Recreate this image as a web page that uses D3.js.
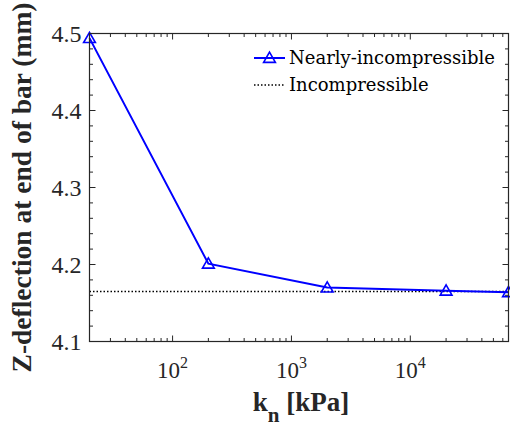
<!DOCTYPE html>
<html>
<head>
<meta charset="utf-8">
<script src="https://cdn.jsdelivr.net/npm/d3@7"></script>
<style>
  html, body { margin: 0; padding: 0; background: #fff; }
  svg { display: block; }
</style>
</head>
<body>
<script>
// Tip deflection vs. normal stiffness
const stiffness = [20, 200, 2000, 20000, 67000];          // k_n [kPa]
const nearlyIncompressible = [4.494, 4.201, 4.170, 4.166, 4.164]; // mm
const incompressible = 4.165;                              // mm
const xDomain = [20, 67000];
const yDomain = [4.1, 4.5];
const yTickValues = [4.1, 4.2, 4.3, 4.4, 4.5];
const xTickDecades = [100, 1000, 10000];
const seriesNames = ["Nearly-incompressible", "Incompressible"];

const W = 510, H = 426;
const m = { left: 89.5, right: 1.5, top: 33.5, bottom: 84.5 };
const iw = W - m.left - m.right, ih = H - m.top - m.bottom;
const axisColor = "#262626";

const svg = d3.select("body").append("svg").attr("width", W).attr("height", H);
const g = svg.append("g").attr("transform", `translate(${m.left},${m.top})`);

const x = d3.scaleLog().domain(xDomain).range([0, iw]);
const y = d3.scaleLinear().domain(yDomain).range([ih, 0]);

// minor ticks: 2..9 in every decade inside the domain
const xMinor = [];
for (let e = 1; e <= 4; e++) for (let k = 2; k <= 9; k++) {
  const v = k * Math.pow(10, e);
  if (v >= xDomain[0] && v <= xDomain[1]) xMinor.push(v);
}
const yMinor = d3.range(4.1, 4.5001, 0.02).map(v => +v.toFixed(2))
  .filter(v => !yTickValues.some(t => Math.abs(t - v) < 1e-9));

const majorLen = 6, minorLen = 3.5;

function tickLines(sel, vals, scale, orient, len) {
  sel.selectAll(null).data(vals).enter().append("line")
    .attr("stroke", axisColor).attr("stroke-width", 1)
    .each(function (d) {
      const s = d3.select(this), p = scale(d);
      if (orient === "bottom") s.attr("x1", p).attr("x2", p).attr("y1", ih).attr("y2", ih - len);
      if (orient === "top") s.attr("x1", p).attr("x2", p).attr("y1", 0).attr("y2", len);
      if (orient === "left") s.attr("y1", p).attr("y2", p).attr("x1", 0).attr("x2", len);
      if (orient === "right") s.attr("y1", p).attr("y2", p).attr("x1", iw).attr("x2", iw - len);
    });
}

// incompressible reference
g.append("line")
  .attr("x1", 0).attr("x2", iw)
  .attr("y1", y(incompressible)).attr("y2", y(incompressible))
  .attr("stroke", "#000").attr("stroke-width", 1.5)
  .attr("stroke-dasharray", "1.5,2");

// nearly-incompressible series
const pts = stiffness.map((s, i) => [s, nearlyIncompressible[i]]);
g.append("path").datum(pts)
  .attr("fill", "none").attr("stroke", "#0000ff").attr("stroke-width", 2)
  .attr("d", d3.line().x(d => x(d[0])).y(d => y(d[1])));

const tri = d3.symbol().type(d3.symbolTriangle).size(60);
g.selectAll(".mk").data(pts).enter().append("path")
  .attr("d", tri)
  .attr("transform", d => `translate(${x(d[0])},${y(d[1]) + 1})`)
  .attr("fill", "none").attr("stroke", "#0000ff").attr("stroke-width", 1.6);

// axes box
const axes = g.append("g");
axes.append("rect").attr("x", 0).attr("y", 0).attr("width", iw).attr("height", ih)
  .attr("fill", "none").attr("stroke", axisColor).attr("stroke-width", 1.2);
tickLines(axes, xTickDecades, x, "bottom", majorLen);
tickLines(axes, xTickDecades, x, "top", majorLen);
tickLines(axes, xMinor, x, "bottom", minorLen);
tickLines(axes, xMinor, x, "top", minorLen);
tickLines(axes, yTickValues, y, "left", majorLen);
tickLines(axes, yTickValues, y, "right", majorLen);
tickLines(axes, yMinor, y, "left", minorLen);
tickLines(axes, yMinor, y, "right", minorLen);

// tick labels
const font = "'Liberation Serif', 'Times New Roman', serif";
g.selectAll(".yl").data(yTickValues).enter().append("text")
  .attr("x", -8).attr("y", d => y(d)).attr("dy", "0.34em")
  .attr("text-anchor", "end").attr("font-family", font).attr("font-size", 24)
  .attr("fill", axisColor).text(d => d.toFixed(1));

const xl = g.selectAll(".xl").data(xTickDecades).enter().append("text")
  .attr("x", d => x(d)).attr("y", ih + 36)
  .attr("text-anchor", "middle").attr("font-family", font).attr("font-size", 23)
  .attr("fill", axisColor);
xl.append("tspan").text("10");
xl.append("tspan").attr("dy", -10).attr("font-size", 16).text(d => Math.round(Math.log10(d)));

// axis titles
const xt = svg.append("text")
  .attr("x", m.left + iw / 2 + 2).attr("y", 411)
  .attr("text-anchor", "middle").attr("font-family", font)
  .attr("font-weight", "bold").attr("font-size", 27).attr("fill", axisColor);
xt.append("tspan").text("k");
xt.append("tspan").attr("dy", 11).attr("font-size", 21).text("n");
xt.append("tspan").attr("dy", -11).text(" [kPa]");

svg.append("text")
  .attr("transform", `translate(31,187.5) rotate(-90)`)
  .attr("text-anchor", "middle").attr("font-family", font)
  .attr("font-weight", "bold").attr("font-size", 27.5).attr("fill", axisColor)
  .text("Z-deflection at end of bar (mm)");

// legend
const lg = svg.append("g").attr("transform", "translate(254,58)");
lg.append("line").attr("x1", 0).attr("x2", 31).attr("y1", 0).attr("y2", 0)
  .attr("stroke", "#0000ff").attr("stroke-width", 2);
lg.append("path").attr("d", tri).attr("transform", "translate(15.5,1)")
  .attr("fill", "none").attr("stroke", "#0000ff").attr("stroke-width", 1.6);
lg.append("text").attr("x", 35).attr("y", 0).attr("dy", "0.33em")
  .attr("font-family", "'DejaVu Serif', serif").attr("font-size", 18)
  .attr("fill", "#000").text(seriesNames[0]);
lg.append("line").attr("x1", 0).attr("x2", 31).attr("y1", 27).attr("y2", 27)
  .attr("stroke", "#000").attr("stroke-width", 1.5).attr("stroke-dasharray", "1.5,2");
lg.append("text").attr("x", 35).attr("y", 27).attr("dy", "0.33em")
  .attr("font-family", "'DejaVu Serif', serif").attr("font-size", 18)
  .attr("fill", "#000").text(seriesNames[1]);
</script>
</body>
</html>
